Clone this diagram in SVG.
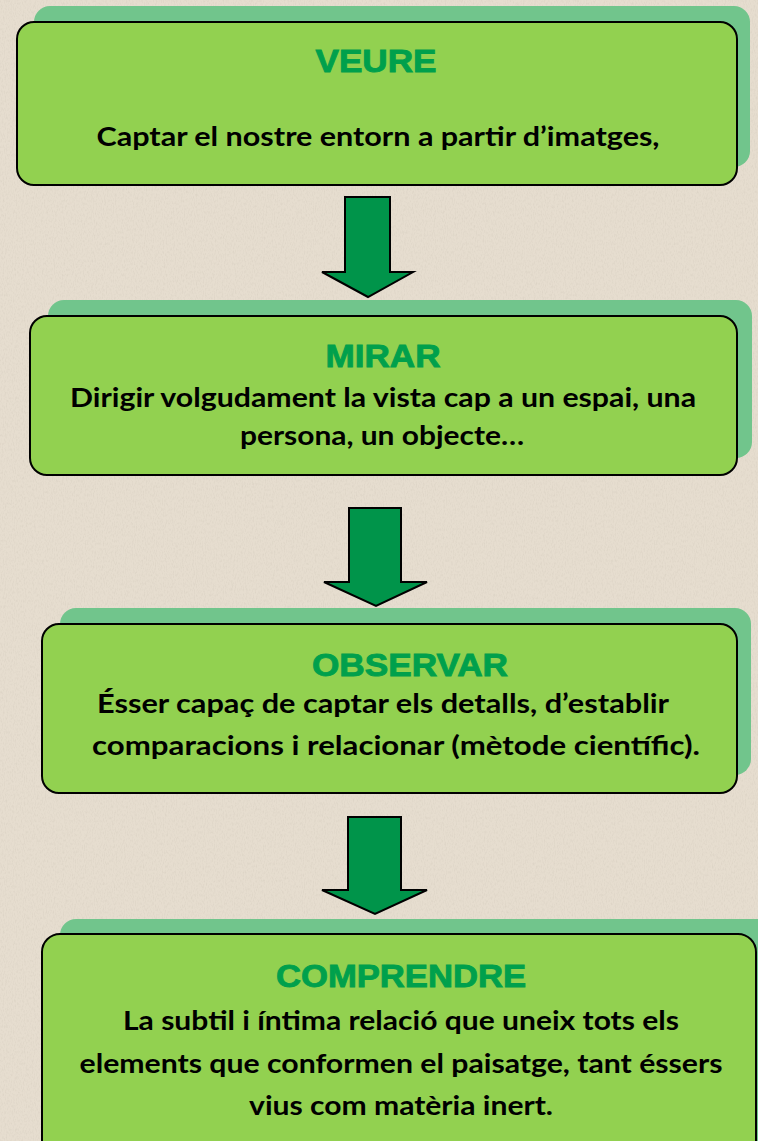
<svg xmlns="http://www.w3.org/2000/svg" width="758" height="1141" viewBox="0 0 758 1141">
<defs>
<filter id="tex" x="0" y="0" width="100%" height="100%">
<feTurbulence type="fractalNoise" baseFrequency="0.9 0.35" numOctaves="2" seed="4" result="n"/>
<feColorMatrix in="n" type="matrix" values="0 0 0 0 0.55  0 0 0 0 0.5  0 0 0 0 0.42  0 0 0 -1.6 0.9" result="dots"/>
<feComposite in="dots" in2="SourceGraphic" operator="in"/>
</filter>
<style>
.shadow{fill:#71c58c;}
.box{fill:#92d150;stroke:#000;stroke-width:2;}
.arrow{fill:#00944a;stroke:#000;stroke-width:2;stroke-linejoin:miter;}
.title{font-family:"Liberation Sans",Arial,sans-serif;font-weight:bold;font-size:32px;fill:#00a04c;stroke:#00a04c;stroke-width:0.9;text-anchor:middle;}
.body{font-family:Lato,"Liberation Sans",sans-serif;font-weight:bold;font-size:27px;fill:#000;text-anchor:middle;}
</style>
</defs>
<rect width="758" height="1141" fill="#e6ddcf"/>
<rect width="758" height="1141" fill="#e6ddcf" filter="url(#tex)" opacity="0.35"/>

<g id="connectors">
<polygon class="arrow" points="345,197 390,197 390,272 413,272 368,297 322,272 345,272"/>
<polygon class="arrow" points="349,508 401,508 401,582 427,582 376,606 324,582 349,582"/>
<polygon class="arrow" points="348,817 401,817 401,890 427,890 375,914 322,890 348,890"/>
</g>

<g id="veure">
<rect class="shadow" x="34" y="6" width="716" height="161" rx="16"/>
<rect class="box" x="17" y="22" width="720" height="163" rx="17"/>
<text class="title" x="376" y="72" textLength="121" lengthAdjust="spacingAndGlyphs">VEURE</text>
<text class="body" x="378" y="146" textLength="563" lengthAdjust="spacingAndGlyphs">Captar el nostre entorn a partir d’imatges,</text>
</g>

<g id="mirar">
<rect class="shadow" x="48" y="300" width="704" height="158" rx="16"/>
<rect class="box" x="30" y="316" width="707" height="159" rx="17"/>
<text class="title" x="383" y="367" textLength="115" lengthAdjust="spacingAndGlyphs">MIRAR</text>
<text class="body" x="383" y="407" textLength="626" lengthAdjust="spacingAndGlyphs">Dirigir volgudament la vista cap a un espai, una</text>
<text class="body" x="382" y="445" textLength="284" lengthAdjust="spacingAndGlyphs">persona, un objecte…</text>
</g>

<g id="observar">
<rect class="shadow" x="60" y="608" width="691" height="167" rx="16"/>
<rect class="box" x="42" y="624" width="695" height="169" rx="17"/>
<text class="title" x="410" y="676" textLength="196" lengthAdjust="spacingAndGlyphs">OBSERVAR</text>
<text class="body" x="383" y="713" textLength="572" lengthAdjust="spacingAndGlyphs">Ésser capaç de captar els detalls, d’establir</text>
<text class="body" x="396" y="755" textLength="608" lengthAdjust="spacingAndGlyphs">comparacions i relacionar (mètode científic).</text>
</g>

<g id="comprendre">
<rect class="shadow" x="60" y="919" width="720" height="230" rx="16"/>
<rect class="box" x="42" y="934" width="714" height="230" rx="18"/>
<text class="title" x="401" y="987" textLength="250" lengthAdjust="spacingAndGlyphs">COMPRENDRE</text>
<text class="body" x="401" y="1030" textLength="556" lengthAdjust="spacingAndGlyphs">La subtil i íntima relació que uneix tots els</text>
<text class="body" x="401" y="1073" textLength="643" lengthAdjust="spacingAndGlyphs">elements que conformen el paisatge, tant éssers</text>
<text class="body" x="401" y="1115" textLength="304" lengthAdjust="spacingAndGlyphs">vius com matèria inert.</text>
</g>
</svg>
